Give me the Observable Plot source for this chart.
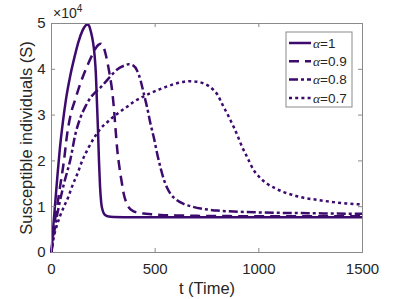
<!DOCTYPE html>
<html><head><meta charset="utf-8">
<script src="https://cdn.jsdelivr.net/npm/d3@7"></script>
<script src="https://cdn.jsdelivr.net/npm/@observablehq/plot@0.6"></script>
<style>
body{margin:0;background:#fff;}
#chart{position:relative;width:399px;height:299px;}
svg{font-family:"Liberation Sans",Arial,Helvetica,sans-serif;}
</style></head><body><div id="chart"></div>
<script>
// Susceptible individuals S (in units of 10^4) versus time t
const tA1 = [0,5,10,20,30,40,55,70,90,110,130,150,165,172,180,190,200,208,214,219,224,229,234,240,248,258,270,300,400,600,1000,1500];
const sA1 = [0,0.33,0.65,1.2,1.75,2.25,2.85,3.35,3.85,4.25,4.6,4.85,4.96,4.98,4.96,4.82,4.6,4.3,3.9,3.3,2.7,2.0,1.45,1.08,0.9,0.82,0.79,0.775,0.77,0.77,0.77,0.77];

const tA09 = [0,5,10,20,27,40,60,76,92,115,140,170,195,212,225,238,250,260,270,280,292,300,308,317,328,340,350,362,375,396,420,444,480,526,600,700,850,1000,1200,1500];
const sA09 = [0,0.25,0.45,0.8,1.0,1.4,2.0,2.6,3.0,3.35,3.7,4.05,4.3,4.45,4.53,4.56,4.5,4.35,4.15,3.9,3.55,3.2,2.75,2.25,1.85,1.5,1.25,1.08,0.97,0.9,0.87,0.85,0.835,0.82,0.81,0.8,0.795,0.79,0.79,0.79];

const tA08 = [0,5,15,35,60,92,116,140,165,188,212,240,285,318,350,372,395,413,430,445,462,478,494,510,526,540,557,574,600,637,680,719,760,800,900,1000,1200,1500];
const sA08 = [0,0.2,0.5,1.0,1.5,2.05,2.6,2.95,3.2,3.38,3.5,3.62,3.85,4.0,4.08,4.11,4.08,3.97,3.75,3.47,3.15,2.8,2.5,2.15,1.85,1.62,1.42,1.28,1.16,1.06,1.0,0.96,0.935,0.915,0.89,0.875,0.86,0.845];

const tA07 = [0,5,10,20,40,60,80,100,125,148,180,212,236,270,300,333,370,400,440,478,520,560,600,640,671,700,735,760,783,800,815,830,848,865,880,900,920,944,975,1000,1040,1080,1120,1160,1200,1280,1360,1420,1500];
const sA07 = [0,0.2,0.32,0.5,0.78,1.0,1.2,1.45,1.72,2.0,2.3,2.55,2.7,2.85,2.97,3.08,3.2,3.3,3.4,3.48,3.56,3.63,3.69,3.73,3.74,3.73,3.69,3.63,3.54,3.45,3.32,3.18,3.03,2.87,2.73,2.52,2.3,2.08,1.8,1.66,1.5,1.4,1.32,1.26,1.21,1.15,1.1,1.07,1.05];

const alphaLabels = ["1","0.9","0.8","0.7"];
const xTicks = [0,500,1000,1500];
const yTicks = [0,1,2,3,4,5];

const color = "#3d0b6e";
const axisGray = "#8a8a8a";
const dashes = [null, "10,6", "9,3,3,3", "3,3.2"];

const series = [[tA1,sA1],[tA09,sA09],[tA08,sA08],[tA07,sA07]].map(([t,s]) => t.map((d,i) => ({t:d, s:s[i]})));

const W = 399, H = 299, mL = 51, mR = 37, mT = 23, mB = 47;
const fw = W - mL - mR, fh = H - mT - mB;

const lineMarks = series.map((data,i) => Plot.line(data, {
  x: "t", y: "s", stroke: color, strokeWidth: 2.5,
  strokeDasharray: dashes[i] || undefined, strokeLinecap: "butt", curve: "monotone-x"
}));

const chart = Plot.plot({
  width: W, height: H,
  marginLeft: mL, marginRight: mR, marginTop: mT, marginBottom: mB,
  style: {fontFamily: '"Liberation Sans",Arial,Helvetica,sans-serif', background: "#fff", color: "#262626"},
  x: {domain: [0,1500]},
  y: {domain: [0,5]},
  marks: [
    ...lineMarks,
    Plot.frame({stroke: axisGray, strokeWidth: 1}),
    Plot.tickX(xTicks, {x: d => d, stroke: axisGray, insetTop: fh - 4}),
    Plot.tickX(xTicks, {x: d => d, stroke: axisGray, insetBottom: fh - 4}),
    Plot.tickY(yTicks, {y: d => d, stroke: axisGray, insetRight: fw - 4}),
    Plot.tickY(yTicks, {y: d => d, stroke: axisGray, insetLeft: fw - 4}),
    Plot.axisX(xTicks, {tickSize: 0, tickPadding: 11, fontSize: 15, tickFormat: d3.format("d"), label: "t (Time)", labelAnchor: "center", labelArrow: "none", labelOffset: 41}),
    Plot.axisY(yTicks, {tickSize: 0, tickPadding: 6, fontSize: 15, tickFormat: d3.format("d"), label: "Susceptible individuals (S)", labelAnchor: "center", labelArrow: "none", labelOffset: 31})
  ]
});
document.getElementById("chart").appendChild(chart);

d3.select(chart).selectAll('g[aria-label="x-axis label"] text, g[aria-label="y-axis label"] text').attr("font-size", 16.5);

const svg = d3.select(chart);
// exponent label
const ex = svg.append("text").attr("x", mL + 2).attr("y", mT - 5).attr("font-size", 14)
  .attr("fill", "#262626").attr("text-anchor", "start");
ex.append("tspan").text("×10");
ex.append("tspan").attr("font-size", 10).attr("dy", -6).text("4");

// legend
const lg = svg.append("g").attr("text-anchor", "start");
const lx = 286, ly = 32, lw = 66, lh = 75;
lg.append("rect").attr("x", lx).attr("y", ly).attr("width", lw).attr("height", lh).attr("fill", "#fff").attr("stroke", axisGray);
alphaLabels.forEach((a,i) => {
  const y = 43 + i * 18.3;
  lg.append("line").attr("x1", lx + 3).attr("x2", lx + 25).attr("y1", y).attr("y2", y)
    .attr("stroke", color).attr("stroke-width", 2.5).attr("stroke-dasharray", dashes[i]);
  const tx = lg.append("text").attr("x", lx + 27).attr("y", y).attr("dy", "0.35em").attr("font-size", 13.5)
    .attr("fill", "#262626").attr("text-anchor", "start");
  tx.append("tspan").attr("font-family", '"Liberation Serif","Times New Roman",serif').attr("font-style", "italic").text("α");
  tx.append("tspan").text("=" + a);
});
</script></body></html>
